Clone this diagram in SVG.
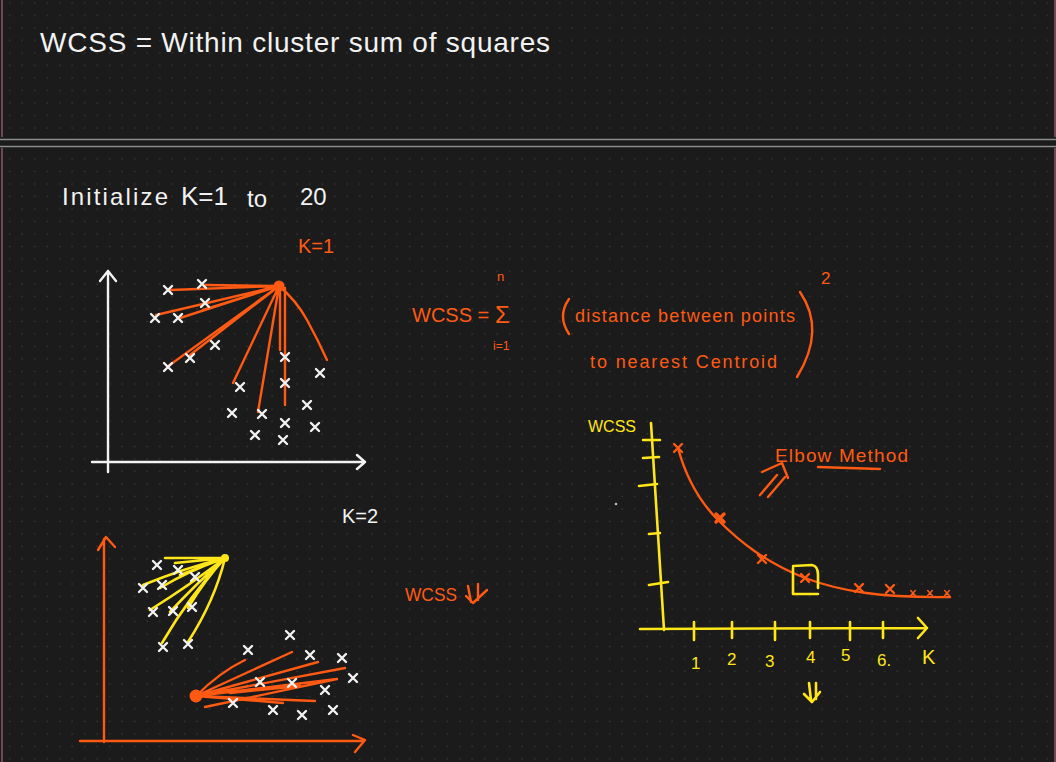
<svg xmlns="http://www.w3.org/2000/svg" xmlns:xlink="http://www.w3.org/1999/xlink" width="1056" height="762" viewBox="0 0 1056 762">
<style>
.w{stroke:#f2f2f2;fill:none;stroke-width:2.4;stroke-linecap:round;stroke-linejoin:round}
.o{stroke:#ff5a14;fill:none;stroke-width:2.4;stroke-linecap:round;stroke-linejoin:round}
.y{stroke:#ffe619;fill:none;stroke-width:2.6;stroke-linecap:round;stroke-linejoin:round}
text{font-family:"Liberation Sans","DejaVu Sans",sans-serif}
.tw{fill:#f2f2f2}
.to{fill:#ff5a14}
.ty{fill:#ffe619}
</style>
<defs>
<pattern id="g1" patternUnits="userSpaceOnUse" x="0" y="0" width="12.5" height="12.5"><circle cx="9.7" cy="3" r="0.8" fill="#3b3b3b"/></pattern>
<pattern id="g2" patternUnits="userSpaceOnUse" x="0" y="0" width="12.5" height="12.5"><circle cx="9.7" cy="9" r="0.8" fill="#3b3b3b"/></pattern>
<path id="xm" d="M-4,-4L4,4M4,-4L-4,4"/>
</defs>
<rect width="1056" height="762" fill="#1b1b1b"/>
<rect x="0" y="0" width="1056" height="137" fill="url(#g1)"/>
<rect x="0" y="148" width="1056" height="614" fill="url(#g2)"/>
<g id="frame">
<line x1="0" y1="139.5" x2="1056" y2="139.5" stroke="#8c8c8c" stroke-width="1.4"/>
<line x1="0" y1="146.5" x2="1056" y2="146.5" stroke="#8c8c8c" stroke-width="1.4"/>
<line x1="2" y1="0" x2="2" y2="137" stroke="#a8687a" stroke-width="1.2"/>
<line x1="2" y1="148" x2="2" y2="762" stroke="#a8687a" stroke-width="1.2"/>
<line x1="1055" y1="0" x2="1055" y2="137" stroke="#a8687a" stroke-width="1.2"/>
<line x1="1055" y1="148" x2="1055" y2="762" stroke="#a8687a" stroke-width="1.2"/>
</g>
<g id="title">
<text class="tw" x="40" y="52" font-size="28" textLength="510" lengthAdjust="spacing">WCSS = Within cluster sum of squares</text>
</g>
<g id="init">
<text class="tw" x="62" y="205" font-size="24" textLength="106" lengthAdjust="spacing">Initialize</text>
<text class="tw" x="181" y="205" font-size="26">K=1</text>
<text class="tw" x="247" y="207" font-size="24">to</text>
<text class="tw" x="300" y="205" font-size="24">20</text>
<text class="to" x="298" y="253" font-size="20">K=1</text>
</g>
<g id="plot-k1">
<path class="w" d="M108,472L108,271M100,281L108,271L116,281"/>
<path class="w" d="M92,462L365,462M357,455L365,462L357,469"/>
<circle cx="279" cy="286" r="5.5" fill="#ff5a14"/>
<g class="o">
<path d="M279,286L170,290M279,286L205,285M279,286L156,315M279,286L180,318M279,286L203,310M279,286L167,367M279,286L190,355M279,286L233,383M279,286L258,412M280,288L280,350M285,288L285,405M279,286Q296,300 307,320Q318,340 327,360"/>
</g>
<g class="w">
<use xlink:href="#xm" x="168" y="290"/><use xlink:href="#xm" x="202" y="284"/><use xlink:href="#xm" x="155" y="318"/><use xlink:href="#xm" x="178" y="318"/><use xlink:href="#xm" x="205" y="303"/><use xlink:href="#xm" x="215" y="345"/><use xlink:href="#xm" x="168" y="367"/><use xlink:href="#xm" x="190" y="358"/><use xlink:href="#xm" x="240" y="387"/><use xlink:href="#xm" x="285" y="357"/><use xlink:href="#xm" x="285" y="383"/><use xlink:href="#xm" x="320" y="373"/><use xlink:href="#xm" x="307" y="405"/><use xlink:href="#xm" x="232" y="413"/><use xlink:href="#xm" x="262" y="414"/><use xlink:href="#xm" x="285" y="423"/><use xlink:href="#xm" x="315" y="427"/><use xlink:href="#xm" x="255" y="435"/><use xlink:href="#xm" x="283" y="440"/>
</g>
</g>
<g id="formula">
<text class="to" x="412" y="322" font-size="20">WCSS =</text>
<text class="to" x="497" y="281" font-size="13">n</text>
<text class="to" x="495" y="323" font-size="24">Σ</text>
<text class="to" x="493" y="350" font-size="12">i=1</text>
<path class="o" d="M569,299Q557,316 569,334"/>
<text class="to" x="575" y="322" font-size="18" textLength="220" lengthAdjust="spacing">distance between points</text>
<text class="to" x="590" y="368" font-size="18" textLength="187" lengthAdjust="spacing">to nearest Centroid</text>
<path class="o" d="M800,292Q826,330 797,377"/>
<text class="to" x="821" y="284" font-size="17">2</text>
</g>
<g id="k2-label">
<text class="tw" x="342" y="523" font-size="20">K=2</text>
</g>
<g id="wcss-down">
<text class="to" x="405" y="601" font-size="19" textLength="52" lengthAdjust="spacingAndGlyphs">WCSS</text>
<path class="o" d="M468,586L471,602M478,584L478,600M466,596L473,603L487,590"/>
</g>
<g id="plot-k2">
<path class="o" d="M104,742L104,539M98,550L106,537L115,547"/>
<path class="o" d="M80,741L362,741M353,735L365,740L355,752"/>
<g class="y">
<path d="M225,558L165,558M225,558L175,563M225,558Q185,568 143,585M225,558Q190,570 160,588M225,558Q190,585 150,610M225,558Q195,585 170,612M225,558Q205,580 188,608M225,558Q190,595 162,643M225,558Q215,600 188,642M225,558L180,575"/>
</g>
<circle cx="225" cy="558" r="4" fill="#ffe619"/>
<circle cx="196" cy="696" r="6.5" fill="#ff5a14"/>
<g class="o">
<path d="M196,696Q220,672 245,660M196,696L292,652M196,696L318,662M196,696L345,668M196,696L337,679M196,696L315,701M196,696L283,703M205,707L337,679M230,693L300,686"/>
</g>
<g class="w">
<use xlink:href="#xm" x="157" y="565"/><use xlink:href="#xm" x="178" y="570"/><use xlink:href="#xm" x="195" y="577"/><use xlink:href="#xm" x="143" y="588"/><use xlink:href="#xm" x="162" y="585"/><use xlink:href="#xm" x="153" y="612"/><use xlink:href="#xm" x="173" y="611"/><use xlink:href="#xm" x="192" y="607"/><use xlink:href="#xm" x="163" y="647"/><use xlink:href="#xm" x="188" y="644"/>
<use xlink:href="#xm" x="248" y="650"/><use xlink:href="#xm" x="290" y="635"/><use xlink:href="#xm" x="310" y="655"/><use xlink:href="#xm" x="342" y="658"/><use xlink:href="#xm" x="353" y="678"/><use xlink:href="#xm" x="260" y="682"/><use xlink:href="#xm" x="292" y="683"/><use xlink:href="#xm" x="325" y="690"/><use xlink:href="#xm" x="233" y="703"/><use xlink:href="#xm" x="273" y="710"/><use xlink:href="#xm" x="302" y="715"/><use xlink:href="#xm" x="333" y="710"/>
</g>
</g>
<g id="elbow-chart">
<text class="ty" x="588" y="432" font-size="16">WCSS</text>
<path class="y" d="M651,423L664,630"/>
<path class="y" d="M643,440L660,440M643,458L659,457M639,486L657,484M649,534L660,533M649,585L668,582"/>
<path class="y" d="M640,629L927,628M918,618L927,628L918,638"/>
<path class="y" d="M694,622L694,640M732,622L732,638M775,622L775,640M810,622L810,638M850,622L850,640M883,622L883,638"/>
<g class="ty" font-size="17">
<text x="691" y="669">1</text><text x="727" y="665">2</text><text x="765" y="667">3</text><text x="806" y="663">4</text><text x="841" y="661">5</text><text x="877" y="666">6.</text><text x="922" y="664" font-size="20">K</text>
</g>
<path class="y" d="M809,683L811,700M816,683L816,699M804,694L812,702L820,692"/>
<circle cx="616" cy="504" r="1.3" fill="#bbbbbb"/>
<path class="o" d="M678,448C684,470 696,498 718,520C740,542 765,562 805,578C840,591 880,598 950,597"/>
<g class="o">
<use xlink:href="#xm" x="678" y="448"/><use xlink:href="#xm" x="720" y="518" stroke-width="3.4"/><use xlink:href="#xm" x="762" y="559"/><use xlink:href="#xm" x="805" y="578"/><use xlink:href="#xm" x="859" y="588"/><use xlink:href="#xm" x="890" y="589"/><use xlink:href="#xm" x="913" y="593" transform="translate(913 593) scale(0.6) translate(-913 -593)"/><use xlink:href="#xm" x="930" y="593" transform="translate(930 593) scale(0.6) translate(-930 -593)"/><use xlink:href="#xm" x="947" y="593" transform="translate(947 593) scale(0.6) translate(-947 -593)"/>
</g>
<path class="y" d="M793,568L793,594L818,594M793,566L812,565Q818,566 818,575L818,588"/>
<text class="to" x="775" y="462" font-size="19" textLength="133" lengthAdjust="spacing">Elbow Method</text>
<path class="o" d="M818,467L880,469"/>
<path class="o" d="M760,495L777,475M768,497L785,477M762,472L782,463L788,478"/>
</g>
</svg>
